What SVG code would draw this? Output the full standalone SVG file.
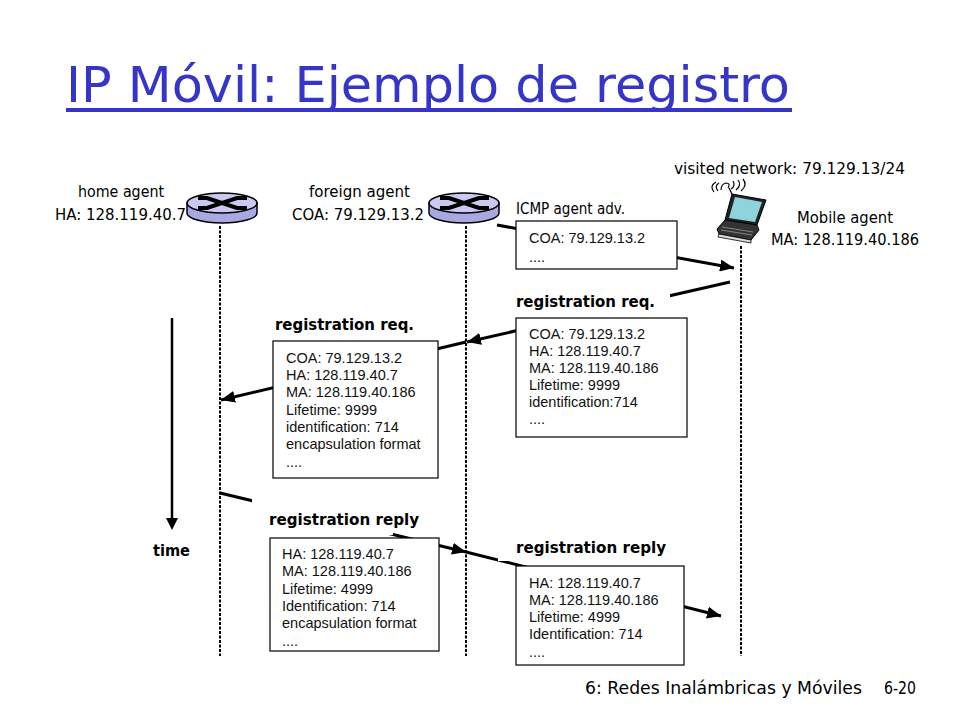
<svg xmlns="http://www.w3.org/2000/svg" width="960" height="720" viewBox="0 0 960 720">
<defs>
<style>
.title{font-family:"DejaVu Sans","Liberation Sans",sans-serif;font-size:50px;fill:#3535c8}
.lbl{font-family:"DejaVu Sans","Liberation Sans",sans-serif;font-size:16px;fill:#000}
.lblb{font-family:"DejaVu Sans","Liberation Sans",sans-serif;font-size:16px;font-weight:bold;fill:#000}
.box{fill:#fff;stroke:#000;stroke-width:1.2}
.bt{font-family:"Liberation Sans",Arial,sans-serif;font-size:14.5px;fill:#111}
.life{stroke:#000;stroke-width:2;stroke-dasharray:3 1.5;fill:none}
.msg{stroke:#000;stroke-width:3;fill:none}
.rtop{fill:#c9c9f2;stroke:#000;stroke-width:1.5}
.rside{fill:#a9a9e2;stroke:#000;stroke-width:1.5}
.rx{stroke:#000;stroke-width:4;fill:none}
.bg{fill:#fff}
</style>
<marker id="ah" markerUnits="userSpaceOnUse" markerWidth="16" markerHeight="12" refX="14" refY="6" orient="auto">
<path d="M0,0 L14,6 L0,12 Z" fill="#000"/>
</marker>
</defs>
<rect width="960" height="720" fill="#fff"/>

<g id="title">
<text class="title" x="66" y="102" textLength="724" lengthAdjust="spacingAndGlyphs">IP Móvil: Ejemplo de registro</text>
<rect x="66" y="108" width="726" height="4" fill="#3535c8"/>
</g>

<g id="lifelines">
<line class="life" x1="220" y1="226" x2="220" y2="656"/>
<line class="life" x1="466" y1="226" x2="466" y2="656"/>
<line class="life" x1="741" y1="246" x2="741" y2="656"/>
</g>

<g id="time-axis">
<line x1="172" y1="318" x2="172" y2="520" stroke="#000" stroke-width="2.5"/>
<path d="M166,518 L178,518 L172,530 Z" fill="#000"/>
<text class="lblb" x="153" y="556" textLength="37" lengthAdjust="spacingAndGlyphs">time</text>
</g>

<g id="connectors">
<line class="msg" x1="497" y1="225" x2="734" y2="268" marker-end="url(#ah)"/>
<line class="msg" x1="730" y1="282" x2="467" y2="342" marker-end="url(#ah)"/>
<line class="msg" x1="466" y1="342" x2="221" y2="400" marker-end="url(#ah)"/>
<line class="msg" x1="220" y1="493" x2="466" y2="552" marker-end="url(#ah)"/>
<line class="msg" x1="466" y1="552" x2="721" y2="616" marker-end="url(#ah)"/>
</g>

<g id="home-agent">
<path class="rside" d="M187,203 V213 A35,10 0 0 0 257,213 V203 Z"/>
<ellipse class="rtop" cx="222" cy="203" rx="35" ry="10"/>
<path class="rx" d="M198,198 H207 L237,208 H247 M198,208 H207 L237,198 H247"/>
<text class="lbl" x="78" y="197" textLength="86" lengthAdjust="spacingAndGlyphs">home agent</text>
<text class="lbl" x="55" y="220" textLength="131" lengthAdjust="spacingAndGlyphs">HA: 128.119.40.7</text>
</g>

<g id="foreign-agent">
<path class="rside" d="M429,203 V213 A35,10 0 0 0 499,213 V203 Z"/>
<ellipse class="rtop" cx="464" cy="203" rx="35" ry="10"/>
<path class="rx" d="M440,198 H449 L479,208 H489 M440,208 H449 L479,198 H489"/>
<text class="lbl" x="309" y="197" textLength="101" lengthAdjust="spacingAndGlyphs">foreign agent</text>
<text class="lbl" x="292" y="220" textLength="132" lengthAdjust="spacingAndGlyphs">COA: 79.129.13.2</text>
</g>

<g id="mobile-agent">
<path d="M714,192 q-5,-6 2,-10 M718,191 q-4,-5 1,-8" stroke="#000" stroke-width="1.2" fill="none"/>
<path d="M721,190 q0,-6 5,-7 q5,0 2,5 M731,189 q5,-3 2,-8 M736,190 q6,-5 2,-10 M741,191 q7,-6 2,-12" stroke="#000" stroke-width="1.2" fill="none"/>
<line x1="729" y1="188" x2="734" y2="198" stroke="#000" stroke-width="1.2"/>
<path d="M732,194 L766,200 L757,225 L725,220 Z" fill="#222" stroke="#000"/>
<path d="M735,197 L762,202 L755,222 L729,218 Z" fill="#8fd3dc"/>
<path d="M725,220 L757,225 L759,230 L751,240 L719,234 L717,229 Z" fill="#333" stroke="#000"/>
<path d="M722,227 L753,232 M721,230 L752,235" stroke="#999" stroke-width="0.8"/>
<path d="M719,234 L751,240 L751,243 L718,237 Z" fill="#ddd" stroke="#000" stroke-width="0.8"/>
<text class="lbl" x="674" y="174" textLength="231" lengthAdjust="spacingAndGlyphs">visited network: 79.129.13/24</text>
<text class="lbl" x="797" y="223" textLength="96" lengthAdjust="spacingAndGlyphs">Mobile agent</text>
<text class="lbl" x="771" y="245" textLength="148" lengthAdjust="spacingAndGlyphs">MA: 128.119.40.186</text>
</g>

<g id="icmp-adv">
<text class="lbl" x="516" y="214" textLength="109" lengthAdjust="spacingAndGlyphs">ICMP agent adv.</text>
<rect class="box" x="516" y="221" width="161" height="48"/>
<text class="bt" x="529" y="243">COA: 79.129.13.2</text>
<text class="bt" x="529" y="262">....</text>
</g>

<g id="reg-req-ma">
<rect class="bg" x="510" y="290" width="160" height="29"/>
<text class="lblb" x="516" y="307" textLength="139" lengthAdjust="spacingAndGlyphs">registration req.</text>
<rect class="box" x="516" y="318" width="171" height="119"/>
<text class="bt" x="529" y="339">COA: 79.129.13.2</text>
<text class="bt" x="529" y="356">HA: 128.119.40.7</text>
<text class="bt" x="529" y="373">MA: 128.119.40.186</text>
<text class="bt" x="529" y="390">Lifetime: 9999</text>
<text class="bt" x="529" y="407">identification:714</text>
<text class="bt" x="529" y="424">....</text>
</g>

<g id="reg-req-fa">
<text class="lblb" x="275" y="330" textLength="139" lengthAdjust="spacingAndGlyphs">registration req.</text>
<rect class="box" x="273" y="341" width="165" height="137"/>
<text class="bt" x="286" y="363">COA: 79.129.13.2</text>
<text class="bt" x="286" y="380">HA: 128.119.40.7</text>
<text class="bt" x="286" y="397">MA: 128.119.40.186</text>
<text class="bt" x="286" y="415">Lifetime: 9999</text>
<text class="bt" x="286" y="432">identification: 714</text>
<text class="bt" x="286" y="449">encapsulation format</text>
<text class="bt" x="286" y="467">....</text>
</g>

<g id="reg-reply-ha">
<rect class="bg" x="252" y="499" width="141" height="36"/>
<text class="lblb" x="269" y="525" textLength="150" lengthAdjust="spacingAndGlyphs">registration reply</text>
<rect class="box" x="270" y="538" width="169" height="113"/>
<text class="bt" x="282" y="559">HA: 128.119.40.7</text>
<text class="bt" x="282" y="576">MA: 128.119.40.186</text>
<text class="bt" x="282" y="594">Lifetime: 4999</text>
<text class="bt" x="282" y="611">Identification: 714</text>
<text class="bt" x="282" y="628">encapsulation format</text>
<text class="bt" x="282" y="646">....</text>
</g>

<g id="reg-reply-fa">
<rect class="bg" x="498" y="536" width="172" height="25"/>
<text class="lblb" x="516" y="553" textLength="150" lengthAdjust="spacingAndGlyphs">registration reply</text>
<rect class="box" x="516" y="566" width="168" height="99"/>
<text class="bt" x="529" y="588">HA: 128.119.40.7</text>
<text class="bt" x="529" y="605">MA: 128.119.40.186</text>
<text class="bt" x="529" y="622">Lifetime: 4999</text>
<text class="bt" x="529" y="639">Identification: 714</text>
<text class="bt" x="529" y="657">....</text>
</g>

<g id="footer">
<text class="lbl" x="585" y="694" style="font-size:18px" textLength="277" lengthAdjust="spacingAndGlyphs">6: Redes Inalámbricas y Móviles</text>
<text class="lbl" x="884" y="694" style="font-size:17px" textLength="32" lengthAdjust="spacingAndGlyphs">6-20</text>
</g>
</svg>
